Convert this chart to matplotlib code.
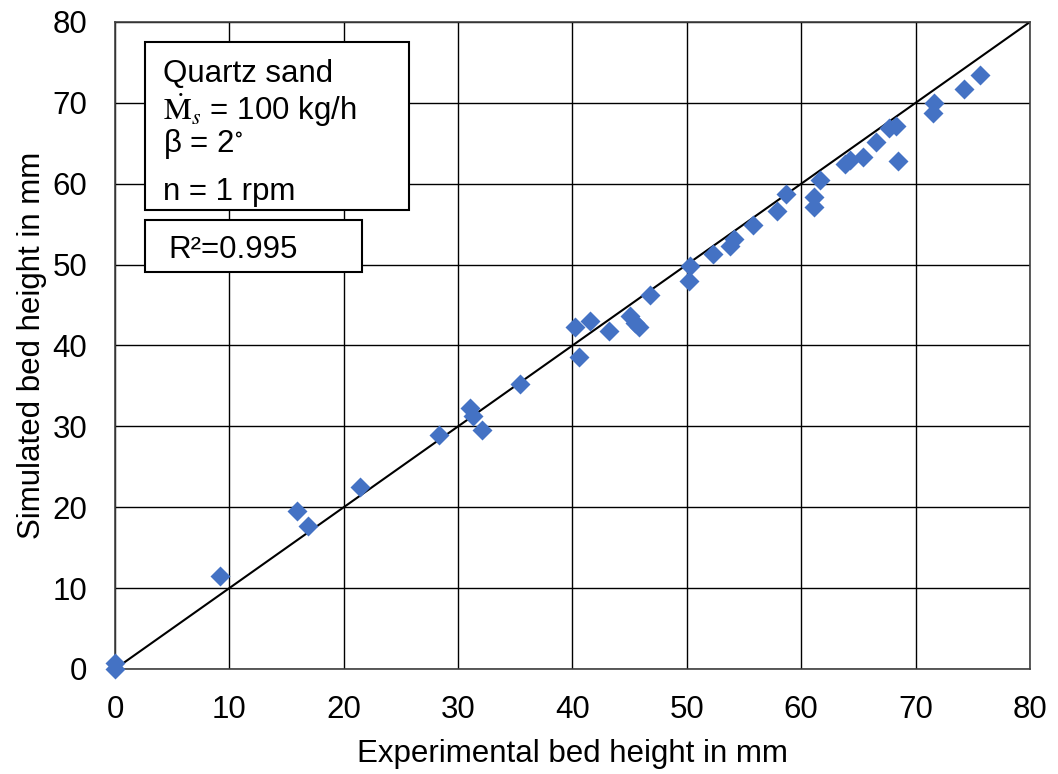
import numpy as np
import matplotlib
matplotlib.use("Agg")
import matplotlib.pyplot as plt
from matplotlib.patches import Rectangle

plt.rcParams['font.family'] = ['Liberation Sans', 'DejaVu Sans']
plt.rcParams['mathtext.fontset'] = 'stix'

# experimental vs simulated bed height (mm)
exp_height = [0.0, 0.0, 9.2, 15.9, 16.9, 21.4, 28.3, 31.0, 31.3, 32.1, 35.4,
              40.2, 40.6, 41.5, 43.2, 45.0, 45.5, 45.8, 46.8, 50.2, 50.3,
              52.3, 53.8, 54.1, 55.8, 57.9, 58.7, 61.1, 61.1, 61.6, 63.8,
              64.3, 65.4, 66.5, 67.7, 68.3, 68.5, 71.6, 71.5, 74.2, 75.6]
sim_height = [0.0, 0.7, 11.5, 19.5, 17.7, 22.5, 28.9, 32.3, 31.3, 29.5, 35.2,
              42.3, 38.6, 43.0, 41.8, 43.6, 42.8, 42.3, 46.2, 48.0, 49.8,
              51.3, 52.3, 53.2, 54.9, 56.6, 58.7, 58.3, 57.1, 60.5, 62.5,
              62.9, 63.3, 65.1, 66.9, 67.1, 62.8, 70.0, 68.7, 71.7, 73.5]
ticks = [0, 10, 20, 30, 40, 50, 60, 70, 80]

fs = 22.5

fig = plt.figure(figsize=(10.58, 7.74), dpi=100)
ax = fig.add_axes([0.1087, 0.1357, 0.8648, 0.8359])

ax.plot([0, 80], [0, 80], color='black', lw=1.5, zorder=2)
ax.plot(exp_height, sim_height, 'D', color='#4472C4', ms=10.5, mec='none', zorder=3, clip_on=False)

ax.set_xlim(0, 80)
ax.set_ylim(0, 80)
ax.set_xticks(ticks)
ax.set_yticks(ticks)
ax.tick_params(length=0, labelsize=fs)
ax.tick_params(axis='x', pad=19)
ax.tick_params(axis='y', pad=20)
ax.grid(True, color='black', lw=1)
ax.set_axisbelow(True)
for s in ax.spines.values():
    s.set_color('#404040')
    s.set_linewidth(1.2)

ax.set_xlabel('Experimental bed height in mm', fontsize=fs, labelpad=10)
ax.set_ylabel('Simulated bed height in mm', fontsize=fs, labelpad=4)

# annotation boxes
ax.add_patch(Rectangle((0.0328, 0.709), 0.289, 0.26, transform=ax.transAxes,
                       fc='white', ec='black', lw=1.5, zorder=5))
ax.add_patch(Rectangle((0.0328, 0.614), 0.237, 0.08, transform=ax.transAxes,
                       fc='white', ec='black', lw=1.5, zorder=5))
tx = 0.053
ax.text(tx, 0.920, 'Quartz sand', transform=ax.transAxes, fontsize=fs, va='center', zorder=6)
ax.text(tx, 0.864, r'$\dot{\mathrm{M}}_{s}$ = 100 kg/h', transform=ax.transAxes, fontsize=fs, va='center', zorder=6)
ax.text(tx, 0.811, r'β = 2$^{\circ}$', transform=ax.transAxes, fontsize=fs, va='center', zorder=6)
ax.text(tx, 0.737, 'n = 1 rpm', transform=ax.transAxes, fontsize=fs, va='center', zorder=6)
ax.text(0.058, 0.647, 'R²=0.995', transform=ax.transAxes, fontsize=fs, va='center', zorder=6)

fig.savefig('out.png', dpi=100)
